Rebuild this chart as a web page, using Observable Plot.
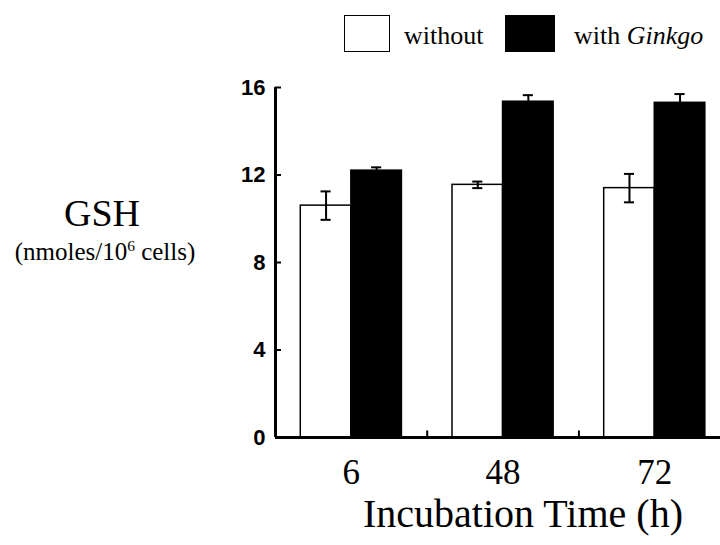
<!DOCTYPE html>
<html>
<head>
<meta charset="utf-8">
<script src="https://cdn.jsdelivr.net/npm/d3@7"></script>
<script src="https://cdn.jsdelivr.net/npm/@observablehq/plot@0.6"></script>
<style>
  html, body { margin: 0; padding: 0; background: #fff; }
  #wrap { position: relative; width: 720px; height: 545px; background: #fff; overflow: hidden; font-family: "Liberation Serif", "Times New Roman", serif; color: #000; }
  .abs { position: absolute; white-space: nowrap; }
  .box { position: absolute; box-sizing: border-box; border: 1.5px solid #000; }
</style>
</head>
<body>
<div id="wrap">
  <div id="chart" class="abs" style="left:0;top:55px;"></div>

  <div class="box" style="left:344px;top:15px;width:46px;height:37px;background:#fff;"></div>
  <div class="abs" style="left:404px;top:23px;font-size:26px;line-height:26px;">without</div>
  <div class="box" style="left:505px;top:15px;width:50px;height:37px;background:#000;"></div>
  <div class="abs" style="left:574px;top:23px;font-size:26px;line-height:26px;">with <i>Ginkgo</i></div>

  <div class="abs" style="left:0;width:204px;text-align:center;top:194px;font-size:38px;line-height:38px;">GSH</div>
  <div class="abs" style="left:0;width:210px;text-align:center;top:239px;font-size:25px;line-height:25px;">(nmoles/10<span style="font-size:0.62em;vertical-align:0.55em;line-height:0;">6</span> cells)</div>

  <div class="abs" style="left:323px;width:400px;text-align:center;top:494px;font-size:40px;line-height:40px;">Incubation Time (h)</div>
</div>
<script>
// ---- data ----
const groups = ["6", "48", "72"];              // incubation time (h)
const seriesNames = ["without", "with Ginkgo"];
const withoutMean = [10.6, 11.55, 11.4];
const withoutErr  = [0.65, 0.15, 0.65];
const withMean    = [12.2, 15.35, 15.3];
const withErr     = [0.15, 0.3, 0.4];
const yTicks = [0, 4, 8, 12, 16];

// ---- table built from the arrays ----
const rows = [];
groups.forEach((g, i) => {
  rows.push({group: g, series: seriesNames[0], slot: i * 3,     value: withoutMean[i], err: withoutErr[i]});
  rows.push({group: g, series: seriesNames[1], slot: i * 3 + 1, value: withMean[i],    err: withErr[i]});
});
const groupCenters = groups.map((g, i) => i * 3 + 1);
const gapCenters = groups.slice(1).map((g, i) => i * 3 + 2.5);

const serif = "Liberation Serif, Times New Roman, serif";
const sans = "Liberation Sans, Arial, sans-serif";

const chart = Plot.plot({
  width: 720,
  height: 440,
  marginLeft: 275,
  marginRight: 0,
  marginTop: 32,
  marginBottom: 58,
  style: {background: "transparent", color: "black", overflow: "visible"},
  x: {type: "linear", domain: [-0.5, 8.3]},
  y: {domain: [0, 16]},
  marks: [
    Plot.rectY(rows, {
      x1: d => d.slot, x2: d => d.slot + 1, y1: 0, y2: "value",
      fill: d => d.series === "without" ? "white" : "black",
      stroke: "black", strokeWidth: 1.5
    }),
    Plot.ruleX(rows, {x: d => d.slot + 0.5, y1: d => d.value - d.err, y2: d => d.value + d.err, stroke: "black", strokeWidth: 2}),
    Plot.ruleY(rows, {y: d => d.value + d.err, x1: d => d.slot + 0.4, x2: d => d.slot + 0.6, stroke: "black", strokeWidth: 2}),
    Plot.ruleY(rows, {y: d => d.value - d.err, x1: d => d.slot + 0.4, x2: d => d.slot + 0.6, stroke: "black", strokeWidth: 2}),
    Plot.ruleX(gapCenters, {x: d => d, y1: 0, y2: 0.3, stroke: "black", strokeWidth: 2}),
    Plot.ruleY([0], {stroke: "black", strokeWidth: 3}),
    Plot.ruleX([-0.5], {stroke: "black", strokeWidth: 3}),
    Plot.axisY(yTicks, {
      anchor: "left", tickSize: -6, tickPadding: 16, strokeWidth: 2,
      fontSize: 22, fontWeight: "bold", fontFamily: sans, label: null
    }),
    Plot.axisX(groupCenters, {
      anchor: "bottom", tickSize: 0, tickPadding: 22,
      tickFormat: d => groups[Math.round((d - 1) / 3)],
      fontSize: 35, fontFamily: serif, label: null
    })
  ]
});
document.getElementById("chart").appendChild(chart);
</script>
</body>
</html>
